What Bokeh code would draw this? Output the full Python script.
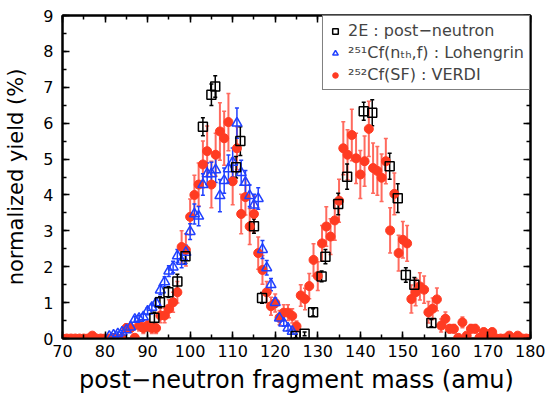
from bokeh.plotting import figure
from bokeh.models import (ColumnDataSource, Whisker, TeeHead, LinearAxis,
                          SingleIntervalTicker, Range1d, Legend, LegendItem,
                          CustomLabelingPolicy)
from bokeh.embed import file_html
from bokeh.resources import INLINE

FONT = "DejaVu Sans"

# ---- 2E : post-neutron (black open squares)
mass_2e = [91.6, 92.9, 94.9, 97.0, 98.9, 103.0, 105.0, 105.9, 110.8, 111.8, 115.0, 116.9,
           124.8, 126.9, 128.9, 130.9, 131.8, 134.8, 136.9, 140.8, 142.8, 146.9, 148.8,
           150.7, 152.7, 156.7]
yield_2e = [0.58, 1.01, 1.29, 1.59, 2.29, 5.90, 6.79, 7.02, 4.77, 5.50, 3.13, 1.13,
            0.07, 0.13, 0.73, 1.73, 2.28, 3.75, 4.51, 6.33, 6.29, 4.80, 3.91,
            1.77, 1.50, 0.43]
err_2e = [0.15, 0.15, 0.15, 0.20, 0.20, 0.25, 0.30, 0.30, 0.30, 0.40, 0.20, 0.15,
          0.05, 0.05, 0.10, 0.15, 0.20, 0.30, 0.35, 0.25, 0.36, 0.36, 0.40,
          0.20, 0.20, 0.10]

# ---- 251Cf(nth,f) : Lohengrin (blue open triangles)
mass_loh = [81, 82, 83, 84, 85, 86, 87, 88, 89, 90, 91, 92, 93, 94, 95, 96, 97, 98, 99, 100,
            101, 102, 103, 104, 105, 106, 107, 108, 109, 110, 111, 112, 113, 114, 115, 116,
            117, 118, 119, 120, 121, 122, 123, 124]
yield_loh = [0.06, 0.09, 0.13, 0.18, 0.24, 0.32, 0.53, 0.56, 0.60, 0.76, 0.87, 0.99, 1.35,
             1.58, 1.88, 1.99, 2.30, 2.15, 2.40, 2.98, 3.47, 3.41, 4.29, 4.59, 4.59, 4.70,
             3.98, 4.40, 4.73, 4.91, 6.00, 4.62, 4.35, 3.98, 3.72, 3.90, 2.48, 1.97, 1.50,
             1.00, 0.57, 0.43, 0.29, 0.20]
err_loh = [0.03, 0.04, 0.05, 0.05, 0.06, 0.07, 0.08, 0.08, 0.09, 0.10, 0.10, 0.11, 0.13,
           0.14, 0.15, 0.16, 0.18, 0.18, 0.20, 0.22, 0.28, 0.27, 0.30, 0.30, 0.32, 0.35,
           0.45, 0.35, 0.38, 0.40, 0.42, 0.35, 0.33, 0.30, 0.30, 0.30, 0.25, 0.20, 0.17,
           0.13, 0.10, 0.08, 0.07, 0.05]

# ---- 252Cf(SF) : VERDI (red filled circles)
mass_verdi = [70, 71, 72, 73, 74, 75, 76, 77, 78, 79, 80, 81, 82, 83, 84, 85, 86, 87, 88, 89,
              90, 91, 92, 93, 94, 95, 96, 97, 98, 99, 100, 101, 102, 103, 104, 105, 106, 107,
              108, 109, 110, 111, 112, 113, 114, 115, 116, 117, 118, 119, 120, 121, 122, 123,
              124, 125, 126, 127, 128, 129, 130, 131, 132, 133, 134, 135, 136, 137, 138, 139,
              140, 141, 142, 143, 144, 145, 146, 147, 148, 149, 150, 151, 152, 153, 154, 155,
              156, 157, 158, 159, 160, 161, 162, 163, 164, 165, 166, 167, 168, 169, 170, 171,
              172, 173, 174, 175, 176, 177, 178, 179, 180]
yield_verdi = [0, 0, 0, 0, 0, 0, 0, 0.08, 0, 0, 0, 0, 0, 0, 0,
               0.29, 0.29, 0.02, 0.36, 0.29, 0.36, 0.29, 0.29, 0.64, 0.64, 0.83, 1.01, 1.29,
               2.55, 2.47, 3.39, 4.00, 4.29, 4.85, 5.22, 4.29, 5.12, 5.77, 5.58, 6.03, 4.38,
               5.30, 3.47, 3.94, 3.12, 3.47, 2.38, 1.91, 1.29, 0.90, 0.99, 0.58, 0.72, 0.72,
               0.63, 0.34, 1.20, 1.10, 1.46, 2.19, 1.74, 2.65, 3.12, 2.84, 3.29, 3.84, 5.30,
               5.12, 5.67, 5.02, 4.57, 4.94, 5.84, 4.75, 4.67, 4.48, 4.94, 3.01, 4.03, 2.38,
               2.75, 2.65, 1.10, 1.29, 1.45, 1.36, 0.73, 0.83, 1.09, 0.36, 0.55, 0.27, 0.27,
               0.02, 0.45, 0.08, 0.27, 0.27, 0.02, 0.18, 0.02, 0.18,
               0, 0, 0, 0.08, 0, 0.08, 0, 0, 0]
err_verdi = [0, 0, 0, 0, 0, 0, 0, 0.05, 0, 0, 0, 0, 0, 0, 0,
             0.12, 0.12, 0.05, 0.15, 0.15, 0.15, 0.15, 0.15, 0.20, 0.20, 0.25, 0.28, 0.30,
             0.45, 0.45, 0.50, 0.55, 0.60, 0.65, 0.70, 0.65, 0.60, 0.80, 0.75, 0.80, 0.65,
             0.60, 0.55, 0.50, 0.50, 0.50, 0.45, 0.40, 0.30, 0.25, 0.25, 0.20, 0.22, 0.22,
             0.20, 0.15, 0.30, 0.30, 0.35, 0.45, 0.40, 0.50, 0.55, 0.50, 0.55, 0.60, 0.74,
             0.70, 0.72, 0.70, 0.67, 0.70, 0.77, 0.70, 0.68, 0.66, 0.63, 0.63, 0.58, 0.50,
             0.51, 0.50, 0.39, 0.38, 0.38, 0.38, 0.30, 0.30, 0.32, 0.18, 0.19, 0.12, 0.12,
             0.05, 0.15, 0.05, 0.12, 0.12, 0.05, 0.10, 0.05, 0.10,
             0, 0, 0, 0.05, 0, 0.05, 0, 0, 0]

x_ticks_major = 10
y_ticks_major = 1

RED = "#ff3b22"
RED_BAR = "#ff6a5e"
BLUE = "#2040ff"
BLACK = "#000000"


def make_src(m, y, e):
    return ColumnDataSource(dict(x=m, y=y,
                                 upper=[a + b for a, b in zip(y, e)],
                                 lower=[a - b for a, b in zip(y, e)]))


src_2e = make_src(mass_2e, yield_2e, err_2e)
src_loh = make_src(mass_loh, yield_loh, err_loh)
src_verdi = make_src(mass_verdi, yield_verdi, err_verdi)

p = figure(width=545, height=396, output_backend="svg", toolbar_location=None,
           x_range=Range1d(70, 180), y_range=Range1d(0, 9),
           x_axis_location=None, y_axis_location=None,
           min_border_left=62, min_border_right=15, min_border_top=15, min_border_bottom=58)
p.xgrid.visible = False
p.ygrid.visible = False
p.outline_line_color = "black"
p.outline_line_width = 2
p.background_fill_color = "white"
p.border_fill_color = "white"

xt = SingleIntervalTicker(interval=x_ticks_major, num_minor_ticks=2)
yt = SingleIntervalTicker(interval=y_ticks_major, num_minor_ticks=2)

xaxis = LinearAxis(ticker=xt)
yaxis = LinearAxis(ticker=yt)
xtop = LinearAxis(ticker=xt)
yright = LinearAxis(ticker=yt)
p.add_layout(xaxis, "below")
p.add_layout(yaxis, "left")
p.add_layout(xtop, "above")
p.add_layout(yright, "right")

for ax in (xaxis, yaxis, xtop, yright):
    ax.axis_line_width = 2
    ax.axis_line_color = "black"
    ax.major_tick_in = 7
    ax.major_tick_out = 0
    ax.minor_tick_in = 4
    ax.minor_tick_out = 0
    ax.major_tick_line_width = 1.5
    ax.minor_tick_line_width = 1.5
    ax.major_label_text_font = FONT
    ax.major_label_text_font_size = "16px"
    ax.major_label_text_color = "black"
    ax.axis_label_text_font = FONT
    ax.axis_label_text_font_style = "normal"
    ax.axis_label_text_color = "black"

for ax in (xtop, yright):
    ax.major_label_policy = CustomLabelingPolicy(code="return new Set()")
    ax.major_label_standoff = 0

xaxis.axis_label = "post\u2212neutron fragment mass (amu)"
xaxis.axis_label_text_font_size = "24px"
xaxis.major_label_standoff = 6
xaxis.axis_label_standoff = 6
yaxis.axis_label = "normalized yield (%)"
yaxis.axis_label_text_font_size = "21px"
yaxis.major_label_standoff = 9
yaxis.axis_label_standoff = 12

# error bars
wv = Whisker(source=src_verdi, base="x", upper="upper", lower="lower",
             line_color=RED_BAR, line_width=2,
             upper_head=TeeHead(size=4, line_color=RED_BAR, line_width=1.5),
             lower_head=TeeHead(size=4, line_color=RED_BAR, line_width=1.5))
wl = Whisker(source=src_loh, base="x", upper="upper", lower="lower",
             line_color=BLUE, line_width=1.5,
             upper_head=TeeHead(size=4, line_color=BLUE, line_width=1.5),
             lower_head=TeeHead(size=4, line_color=BLUE, line_width=1.5))
w2 = Whisker(source=src_2e, base="x", upper="upper", lower="lower",
             line_color=BLACK, line_width=1.5,
             upper_head=TeeHead(size=4, line_color=BLACK, line_width=1.5),
             lower_head=TeeHead(size=4, line_color=BLACK, line_width=1.5))
p.add_layout(wv)

rV = p.scatter("x", "y", source=src_verdi, marker="circle", size=9,
               fill_color=RED, line_color=RED)
p.add_layout(wl)
rL = p.scatter("x", "y", source=src_loh, marker="triangle", size=10,
               fill_color=None, line_color=BLUE, line_width=1.5)
p.add_layout(w2)
r2 = p.scatter("x", "y", source=src_2e, marker="square", size=9,
               fill_color=None, line_color=BLACK, line_width=1.5)

legend = Legend(items=[
    LegendItem(label="2E : post\u2212neutron", renderers=[r2]),
    LegendItem(label="\u00b2\u2075\u00b9Cf(n\u209c\u2095,f) : Lohengrin", renderers=[rL]),
    LegendItem(label="\u00b2\u2075\u00b2Cf(SF) : VERDI", renderers=[rV]),
], location="top_right", margin=0, padding=5, spacing=3,
    border_line_color="black", border_line_width=1.5,
    label_text_font=FONT, label_text_font_size="16px",
    glyph_width=14, glyph_height=14, label_standoff=6,
    background_fill_color="white", background_fill_alpha=1)
p.add_layout(legend)

open("out.html", "w").write(file_html(p, INLINE))
